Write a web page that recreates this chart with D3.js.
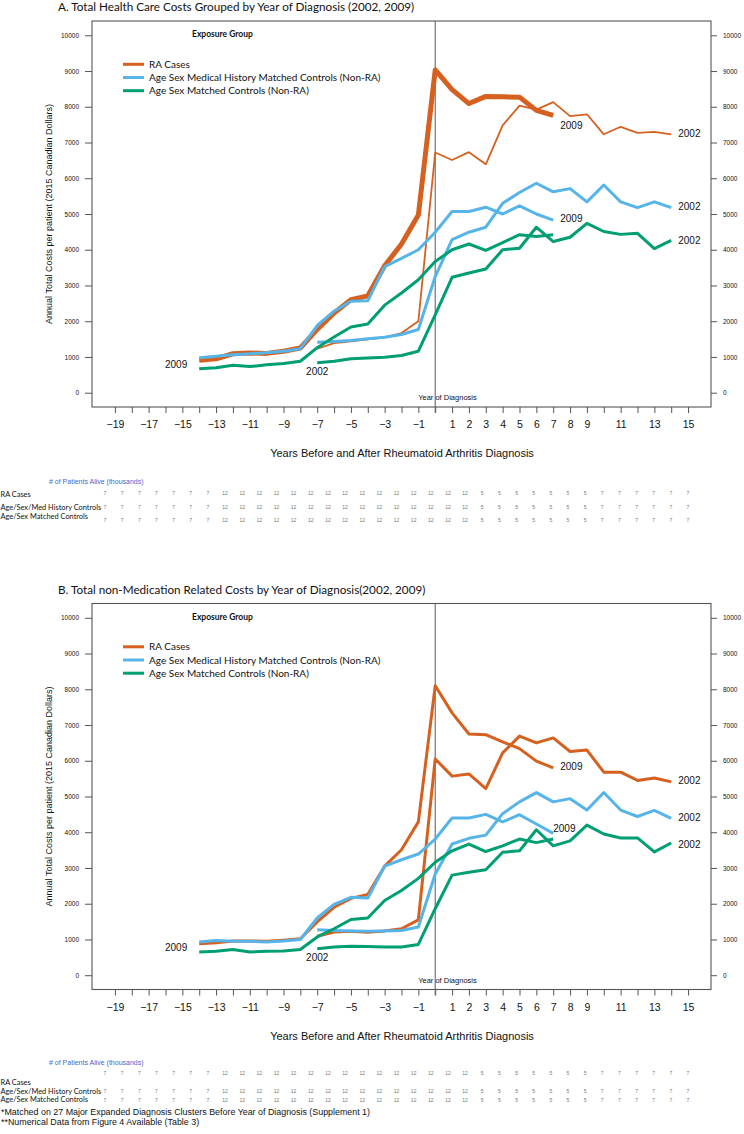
<!DOCTYPE html>
<html>
<head>
<meta charset="utf-8">
<script src="https://cdn.jsdelivr.net/npm/d3@7"></script>
<style>
  body { margin: 0; background: #fff; }
  svg { display: block; }
  .myriad { font-family: Lato, "Open Sans", sans-serif; fill: #111; }
  .helv { font-family: "Liberation Sans", Arial, sans-serif; fill: #111; }
  .axis path.domain { display: none; }
  .axis line { stroke: #555; }
  .axis text { font-family: "Liberation Sans", Arial, sans-serif; fill: #111; }
</style>
</head>
<body>
<svg id="chart" width="744" height="1134"></svg>
<script>
'use strict';

// ---- data ----
var cohort2009Years = [-14, -13, -12, -11, -10, -9, -8, -7, -6, -5, -4, -3, -2, -1, 0, 1, 2, 3, 4, 5, 6, 7];
var cohort2002Years = [-7, -6, -5, -4, -3, -2, -1, 0, 1, 2, 3, 4, 5, 6, 7, 8, 9, 10, 11, 12, 13, 14];

var xTickYears = [-19, -18, -17, -16, -15, -14, -13, -12, -11, -10, -9, -8, -7, -6, -5, -4, -3, -2, -1,
                  0, 1, 2, 3, 4, 5, 6, 7, 8, 9, 10, 11, 12, 13, 14, 15];
var xLabelYears = [-19, -17, -15, -13, -11, -9, -7, -5, -3, -1, 1, 2, 3, 4, 5, 6, 7, 8, 9, 11, 13, 15];
var yTickValues = [0, 1000, 2000, 3000, 4000, 5000, 6000, 7000, 8000, 9000, 10000];

var groupNames = ['RA Cases',
                  'Age Sex Medical History Matched Controls (Non-RA)',
                  'Age Sex Matched Controls (Non-RA)'];

// A. Total health care costs
var totalRA2009 = [910, 950, 1090, 1110, 1100, 1160, 1250, 1770, 2230, 2600, 2710, 3550, 4160, 4970,
                   9030, 8480, 8090, 8290, 8280, 8270, 7900, 7760];
var totalRA2002 = [1230, 1390, 1440, 1490, 1550, 1670, 2000,
                   6720, 6510, 6730, 6390, 7480, 8030, 7920, 8130, 7740, 7790, 7230, 7440, 7270, 7300, 7230];
var totalMedHist2009 = [980, 1020, 1060, 1090, 1120, 1160, 1230, 1880, 2280, 2560, 2570, 3530, 3760, 4000,
                        4490, 5070, 5070, 5190, 5000, 5230, 5000, 4830];
var totalMedHist2002 = [1410, 1430, 1460, 1510, 1550, 1630, 1770,
                        3250, 4280, 4490, 4630, 5300, 5600, 5860, 5620, 5710, 5340, 5810, 5340, 5180, 5340, 5180];
var totalAgeSex2009 = [670, 700, 770, 730, 780, 820, 880, 1260, 1560, 1840, 1920, 2450, 2790, 3160,
                       3670, 4000, 4160, 3980, 4200, 4420, 4370, 4420];
var totalAgeSex2002 = [840, 880, 950, 970, 990, 1040, 1160,
                       2180, 3230, 3350, 3460, 4000, 4040, 4630, 4230, 4350, 4740, 4510, 4430, 4460, 4030, 4260];

// B. Non-medication related costs
var nonMedRA2009 = [880, 910, 960, 960, 950, 980, 1020, 1490, 1900, 2150, 2260, 3050, 3510, 4290,
                    8100, 7340, 6750, 6730, 6530, 6340, 5990, 5800];
var nonMedRA2002 = [1090, 1210, 1230, 1200, 1240, 1300, 1550,
                    6050, 5570, 5630, 5220, 6220, 6690, 6500, 6640, 6260, 6300, 5680, 5680, 5450, 5520, 5410];
var nonMedMedHist2009 = [930, 970, 950, 950, 930, 960, 1000, 1600, 1980, 2180, 2160, 3050, 3230, 3390,
                         3810, 4400, 4400, 4500, 4290, 4490, 4230, 3970];
var nonMedMedHist2002 = [1270, 1250, 1240, 1230, 1240, 1250, 1350,
                         2830, 3670, 3830, 3920, 4520, 4850, 5110, 4850, 4940, 4620, 5110, 4620, 4440, 4610, 4390];
var nonMedAgeSex2009 = [650, 670, 720, 650, 670, 680, 720, 1070, 1300, 1560, 1600, 2090, 2370, 2710,
                        3160, 3480, 3670, 3460, 3620, 3810, 3710, 3810];
var nonMedAgeSex2002 = [740, 790, 810, 800, 790, 790, 860,
                        1860, 2800, 2880, 2950, 3440, 3480, 4070, 3620, 3760, 4200, 3950, 3840, 3840, 3450, 3700];

// # of patients alive (thousands), one per year -19 .. 15
var tableRowNames = ['RA Cases', 'Age/Sex/Med History Controls', 'Age/Sex Matched Controls'];
var patientsRA = [7, 7, 7, 7, 7, 7, 7, 12, 12, 12, 12, 12, 12, 12, 12, 12, 12, 12, 12, 12, 12, 12,
                  5, 5, 5, 5, 5, 5, 5, 7, 7, 7, 7, 7, 7];
var patientsMedHist = [7, 7, 7, 7, 7, 7, 7, 12, 12, 12, 12, 12, 12, 12, 12, 12, 12, 12, 12, 12, 12, 12,
                       5, 5, 5, 5, 5, 5, 5, 7, 7, 7, 7, 7, 7];
var patientsAgeSex = [7, 7, 7, 7, 7, 7, 7, 12, 12, 12, 12, 12, 12, 12, 12, 12, 12, 12, 12, 12, 12, 12,
                      5, 5, 5, 5, 5, 5, 5, 7, 7, 7, 7, 7, 7];

var footnotes = ['*Matched on 27 Major Expanded Diagnosis Clusters Before Year of Diagnosis (Supplement 1)',
                 '**Numerical Data from Figure 4 Available (Table 3)'];

// ---- drawing ----
var colors = ['#d6601f', '#56b4e9', '#009e73'];

var svg = d3.select('#chart');

var boxLeft = 92, boxRight = 711;
var boxTop = 21, boxBottom = 407;

// R-style 4% padding around the data range.
var xPad = (15 - (-19)) * 0.04;
var xScale = d3.scaleLinear().domain([-19 - xPad, 15 + xPad]).range([boxLeft, boxRight]);
var yScale = d3.scaleLinear().domain([-400, 10400]).range([boxBottom, boxTop]);
var tableX = d3.scalePoint().domain(xTickYears).range([105, 688]);

function translation(x, y) {
  return 'translate(' + x + ',' + y + ')';
}

function toPoints(years, values) {
  return years.map(function(yr, i) { return {year: yr, value: values[i]}; });
}

function minusSign(d) {
  return d < 0 ? '\u2212' + Math.abs(d) : String(d);
}

function drawPanel(cfg) {
  var g = svg.append('g').attr('transform', translation(0, cfg.top));

  g.append('text')
    .attr('class', 'myriad')
    .attr('x', 58).attr('y', 11)
    .style('font-size', '11.7px')
    .text(cfg.title);

  // Axes
  g.append('g').attr('class', 'axis')
    .attr('transform', translation(boxLeft, 0))
    .call(d3.axisLeft(yScale).tickValues(yTickValues).tickSize(7).tickPadding(6).tickFormat(d3.format('d')))
    .selectAll('text').style('font-size', '6.5px');

  g.append('g').attr('class', 'axis')
    .attr('transform', translation(boxRight, 0))
    .call(d3.axisRight(yScale).tickValues(yTickValues).tickSize(6).tickPadding(6).tickFormat(d3.format('d')))
    .selectAll('text').style('font-size', '6.5px');

  g.append('g').attr('class', 'axis')
    .attr('transform', translation(0, boxBottom))
    .call(d3.axisBottom(xScale).tickValues(xTickYears).tickSize(6).tickPadding(8)
      .tickFormat(function(d) { return xLabelYears.indexOf(d) >= 0 ? minusSign(d) : ''; }))
    .selectAll('text').style('font-size', '10.5px');

  // Plot box
  g.append('rect')
    .attr('x', boxLeft).attr('y', boxTop)
    .attr('width', boxRight - boxLeft).attr('height', boxBottom - boxTop)
    .attr('fill', 'none').attr('stroke', '#555').attr('stroke-width', 1.1);

  // Year of diagnosis line
  g.append('line')
    .attr('x1', xScale(0)).attr('x2', xScale(0))
    .attr('y1', boxTop).attr('y2', boxBottom + 6)
    .attr('stroke', '#666').attr('stroke-width', 1.1);

  g.append('text')
    .attr('class', 'helv')
    .attr('x', xScale(0) - 17).attr('y', boxBottom - 7)
    .style('font-size', '7.5px')
    .text('Year of Diagnosis');

  // Axis titles
  g.append('text')
    .attr('class', 'helv')
    .attr('transform', translation(51.5, (boxTop + boxBottom) / 2) + ' rotate(-90)')
    .attr('text-anchor', 'middle')
    .style('font-size', '9px')
    .text('Annual Total Costs per patient (2015 Canadian Dollars)');

  g.append('text')
    .attr('class', 'helv')
    .attr('x', 402).attr('y', boxBottom + 50)
    .attr('text-anchor', 'middle')
    .style('font-size', '11px')
    .text('Years Before and After Rheumatoid Arthritis Diagnosis');

  // Series lines
  var line = d3.line()
    .x(function(d) { return xScale(d.year); })
    .y(function(d) { return yScale(d.value); });

  g.selectAll('.series')
    .data(cfg.series)
    .enter()
    .append('path')
    .attr('class', 'series')
    .attr('d', function(s) { return line(toPoints(s.years, s.values)); })
    .attr('fill', 'none')
    .attr('stroke', function(s) { return colors[s.group]; })
    .attr('stroke-width', function(s) { return s.width; })
    .attr('stroke-linejoin', 'round');

  // Cohort labels at series ends
  cfg.series.forEach(function(s) {
    if (!s.label) return;
    var n = s.years.length - 1;
    g.append('text')
      .attr('class', 'helv')
      .attr('x', xScale(s.years[n]) + s.labelDx)
      .attr('y', yScale(s.values[n]) + s.labelDy + 3.5)
      .style('font-size', '10px')
      .text(s.label);
  });

  var first2009 = cfg.series[0];
  g.append('text')
    .attr('class', 'helv')
    .attr('x', xScale(first2009.years[0]) - 12)
    .attr('y', yScale(first2009.values[0]) + 4 + 3.5)
    .attr('text-anchor', 'end')
    .style('font-size', '10px')
    .text('2009');

  var firstAgeSex2002 = cfg.series[5];
  g.append('text')
    .attr('class', 'helv')
    .attr('x', xScale(firstAgeSex2002.years[0]))
    .attr('y', yScale(firstAgeSex2002.values[0]) + 9 + 3.5)
    .attr('text-anchor', 'middle')
    .style('font-size', '10px')
    .text('2002');

  // Legend
  g.append('text')
    .attr('class', 'myriad')
    .attr('x', 192).attr('y', boxTop + 16)
    .style('font-size', '8.5px').style('font-weight', 'bold')
    .text('Exposure Group');

  var legend = g.selectAll('.legend-row')
    .data(groupNames)
    .enter()
    .append('g')
    .attr('class', 'legend-row')
    .attr('transform', function(d, i) { return translation(123, boxTop + 43.3 + i * 13.2); });

  legend.append('line')
    .attr('x1', 0).attr('x2', 21)
    .attr('stroke', function(d, i) { return colors[i]; })
    .attr('stroke-width', 3);

  legend.append('text')
    .attr('class', 'myriad')
    .attr('x', 26).attr('y', 3.6)
    .style('font-size', '10px')
    .text(function(d) { return d; });

  // Patients alive table
  var t = cfg.table;
  g.append('text')
    .attr('x', 49).attr('y', boxBottom + t.headY + 2.5)
    .style('font-family', 'Liberation Sans, Arial, sans-serif')
    .style('font-size', '7px')
    .style('fill', '#4b5fcf')
    .text('# of Patients Alive (thousands)');

  var rowsData = [patientsRA, patientsMedHist, patientsAgeSex];
  rowsData.forEach(function(row, r) {
    g.append('text')
      .attr('class', 'myriad')
      .attr('x', 0.5).attr('y', boxBottom + t.labelY[r] + 2.8)
      .style('font-size', '7.4px')
      .text(tableRowNames[r]);

    g.selectAll('.num-' + r)
      .data(row)
      .enter()
      .append('text')
      .attr('class', 'num-' + r)
      .attr('x', function(d, i) { return tableX(xTickYears[i]); })
      .attr('y', boxBottom + t.numY[r] + 2)
      .attr('text-anchor', 'middle')
      .style('font-family', 'Liberation Sans, Arial, sans-serif')
      .style('font-size', '5px')
      .style('fill', '#777')
      .text(function(d) { return d; });
  });
}

drawPanel({
  top: 0,
  title: 'A. Total Health Care Costs Grouped by Year of Diagnosis (2002, 2009)',
  series: [
    {group: 0, years: cohort2009Years, values: totalRA2009, width: 5, label: '2009', labelDx: 7, labelDy: 10},
    {group: 0, years: cohort2002Years, values: totalRA2002, width: 1.8, label: '2002', labelDx: 7, labelDy: -1},
    {group: 1, years: cohort2009Years, values: totalMedHist2009, width: 3, label: '2009', labelDx: 7, labelDy: -2},
    {group: 1, years: cohort2002Years, values: totalMedHist2002, width: 3, label: '2002', labelDx: 7, labelDy: -1},
    {group: 2, years: cohort2009Years, values: totalAgeSex2009, width: 3},
    {group: 2, years: cohort2002Years, values: totalAgeSex2002, width: 3, label: '2002', labelDx: 7, labelDy: 0}
  ],
  table: {headY: 74.7, labelY: [87, 99.7, 109], numY: [86, 99.7, 113]}
});

drawPanel({
  top: 582.5,
  title: 'B. Total non-Medication Related Costs by Year of Diagnosis(2002, 2009)',
  series: [
    {group: 0, years: cohort2009Years, values: nonMedRA2009, width: 3, label: '2009', labelDx: 7, labelDy: -1},
    {group: 0, years: cohort2002Years, values: nonMedRA2002, width: 3, label: '2002', labelDx: 7, labelDy: -1},
    {group: 1, years: cohort2009Years, values: nonMedMedHist2009, width: 3, label: '2009', labelDx: 0, labelDy: -4.5},
    {group: 1, years: cohort2002Years, values: nonMedMedHist2002, width: 3, label: '2002', labelDx: 7, labelDy: -1},
    {group: 2, years: cohort2009Years, values: nonMedAgeSex2009, width: 3},
    {group: 2, years: cohort2002Years, values: nonMedAgeSex2002, width: 3, label: '2002', labelDx: 7, labelDy: 2}
  ],
  table: {headY: 72.6, labelY: [92.3, 101.3, 109.5], numY: [83.3, 101.3, 110.5]}
});

svg.selectAll('.footnote')
  .data(footnotes)
  .enter()
  .append('text')
  .attr('class', 'footnote helv')
  .attr('x', 1)
  .attr('y', function(d, i) { return 1114.6 + i * 10; })
  .style('font-size', '8.9px')
  .text(function(d) { return d; });
</script>
</body>
</html>
